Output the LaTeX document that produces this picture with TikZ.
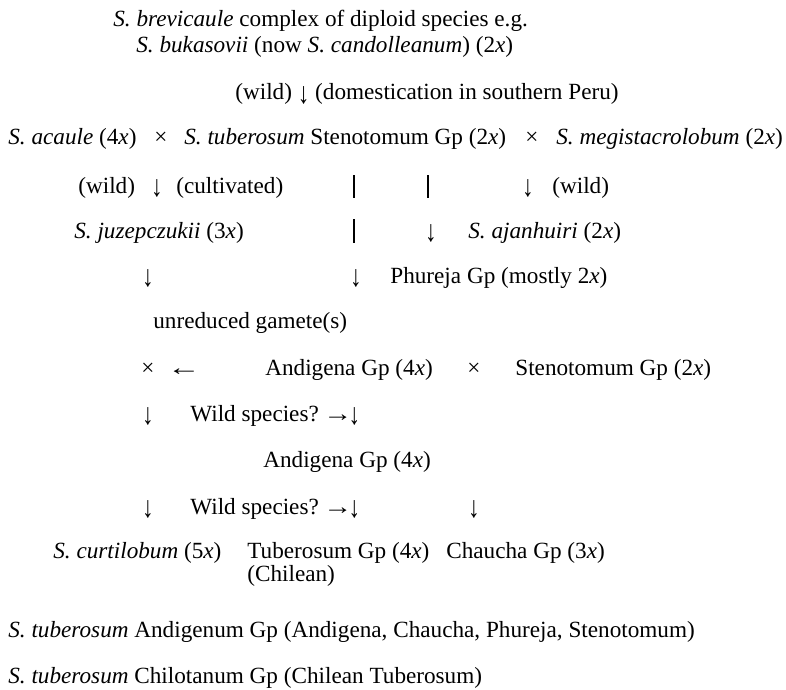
\documentclass[tikz,border=0pt]{standalone}
\usepackage{fontspec}
\setmainfont{Liberation Serif}
\newcommand{\sname}[1]{\textit{S. #1}}
\newcommand{\ploidy}[1]{(#1\textit{x})}
\newcommand{\dnarr}{\raisebox{-0.35ex}{\scalebox{1}[1.3]{↓}}}
\newcommand{\ltarr}{\scalebox{1.45}[1]{←}}
\newcommand{\rtarr}{\scalebox{1.25}[1]{→}}
\tikzset{
  lbl/.style={anchor=base west, inner sep=0pt, font=\fontsize{13.2}{15}\selectfont},
  sym/.style={anchor=base, inner sep=0pt, font=\fontsize{13.2}{15}\selectfont},
  bar/.style={line width=0.9pt}
}
\begin{document}
\begin{tikzpicture}[x=0.02cm, y=-0.02cm]
  \useasboundingbox (0,0) rectangle (786,689);
  % wild ancestors
  \node[lbl] (brev) at (113,27) {\sname{brevicaule} complex of diploid species e.g.};
  \node[lbl] (buka) at (136,53) {\sname{bukasovii} (now \sname{candolleanum}) \ploidy{2}};
  \node[lbl] (dom) at (235,100) {(wild) \dnarr{} (domestication in southern Peru)};
  % first crosses
  \node[lbl] (acau) at (8,145) {\sname{acaule} \ploidy{4}};
  \node[sym] (x1) at (161,145) {×};
  \node[lbl] (sten) at (184,145) {\sname{tuberosum} Stenotomum Gp \ploidy{2}};
  \node[sym] (x2) at (532,145) {×};
  \node[lbl] (megi) at (556,145) {\sname{megistacrolobum} \ploidy{2}};
  \node[lbl] (wild1) at (78,193) {(wild)};
  \node[lbl] (cult) at (176,193) {(cultivated)};
  \node[lbl] (wild2) at (552,193) {(wild)};
  \node[lbl] (juze) at (74,238) {\sname{juzepczukii} \ploidy{3}};
  \node[lbl] (ajan) at (468,238) {\sname{ajanhuiri} \ploidy{2}};
  \node[lbl] (phur) at (390,283) {Phureja Gp (mostly 2\textit{x})};
  % tetraploids
  \node[lbl] (unre) at (153,328) {unreduced gamete(s)};
  \node[sym] (x3) at (148,375) {×};
  \node[sym] (left) at (184,375) {\ltarr};
  \node[lbl] (andi1) at (265,375) {Andigena Gp \ploidy{4}};
  \node[sym] (x4) at (474,375) {×};
  \node[lbl] (sten2) at (515,375) {Stenotomum Gp \ploidy{2}};
  \node[lbl] (spec1) at (190,421) {Wild species?\hspace{2.5pt}\rtarr\kern-2pt\dnarr};
  \node[lbl] (andi2) at (263,467) {Andigena Gp \ploidy{4}};
  \node[lbl] (spec2) at (190,514) {Wild species?\hspace{2.5pt}\rtarr\kern-2pt\dnarr};
  % end products
  \node[lbl] (curt) at (53,558) {\sname{curtilobum} \ploidy{5}};
  \node[lbl] (tube) at (247,558) {Tuberosum Gp \ploidy{4}};
  \node[lbl] (chil) at (247,581) {(Chilean)};
  \node[lbl] (chau) at (446,558) {Chaucha Gp \ploidy{3}};
  \node[lbl] (andg) at (8,637) {\sname{tuberosum} Andigenum Gp (Andigena, Chaucha, Phureja, Stenotomum)};
  \node[lbl] (chlt) at (8,683) {\sname{tuberosum} Chilotanum Gp (Chilean Tuberosum)};
  % down arrows
  \foreach \x/\y [count=\n] in {157/193, 528/193, 431/238, 148/283, 356/283, 148/421, 148/514, 474/514} {
    \node[sym] (dn\n) at (\x,\y) {\dnarr};
  }
  % vertical bars
  \coordinate (b1t) at (354,175); \coordinate (b1b) at (354,198);
  \coordinate (b2t) at (428,175); \coordinate (b2b) at (428,198);
  \coordinate (b3t) at (354,219); \coordinate (b3b) at (354,243);
  \draw[bar] (b1t) -- (b1b);
  \draw[bar] (b2t) -- (b2b);
  \draw[bar] (b3t) -- (b3b);
\end{tikzpicture}
\end{document}
